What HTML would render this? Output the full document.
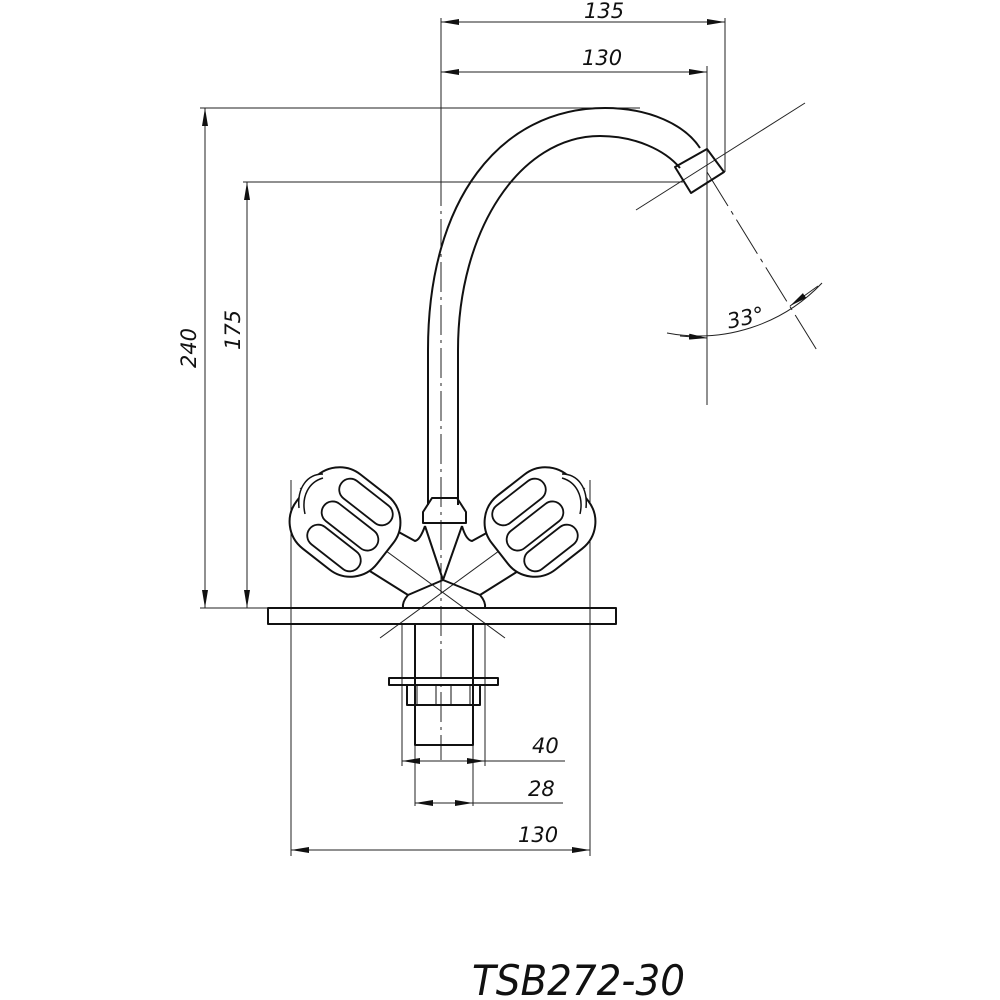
<!DOCTYPE html>
<html><head><meta charset="utf-8"><style>
html,body{margin:0;padding:0;background:#fff;}
svg{display:block}
text{font-family:"DejaVu Sans","Liberation Sans",sans-serif;font-style:italic;fill:#111}
</style></head><body>
<svg width="1000" height="1000" viewBox="0 0 1000 1000" xmlns="http://www.w3.org/2000/svg">
<defs>
<marker id="a" viewBox="0 0 18 6" refX="18" refY="3" markerWidth="18" markerHeight="6" markerUnits="userSpaceOnUse" orient="auto"><path d="M0,0 L18,3 L0,6 z" fill="#111"/></marker>
<marker id="s" viewBox="0 0 18 6" refX="0" refY="3" markerWidth="18" markerHeight="6" markerUnits="userSpaceOnUse" orient="auto"><path d="M18,0 L0,3 L18,6 z" fill="#111"/></marker>
<g id="knob">
<rect x="-51" y="-47" width="102" height="94" rx="34" transform="rotate(38)" stroke-width="2"/>
<path d="M-46,-14 C-48,-34 -38,-48 -22,-48" stroke-width="1.5"/>
<path d="M-40,-8 C-44,-26 -36,-40 -22,-44" stroke-width="1.5"/>
<rect x="-31" y="-11" width="62" height="22" rx="11" transform="translate(21,-20) rotate(38)"/>
<rect x="-33" y="-11" width="66" height="22" rx="11" transform="translate(5,4) rotate(38)"/>
<rect x="-31" y="-11" width="62" height="22" rx="11" transform="translate(-11,26) rotate(38)"/>
</g>
</defs>
<g stroke="#222" stroke-width="1" fill="none">
<line x1="441" y1="18" x2="441" y2="176"/>
<line x1="725" y1="18" x2="725" y2="172"/>
<line x1="707" y1="66" x2="707" y2="405"/>
<line x1="200" y1="108" x2="640" y2="108"/>
<line x1="243" y1="182" x2="683" y2="182"/>
<line x1="200" y1="608" x2="268" y2="608"/>
<line x1="441" y1="22" x2="725" y2="22" marker-start="url(#s)" marker-end="url(#a)"/>
<line x1="441" y1="72" x2="707" y2="72" marker-start="url(#s)" marker-end="url(#a)"/>
<line x1="205" y1="108" x2="205" y2="608" marker-start="url(#s)" marker-end="url(#a)"/>
<line x1="247" y1="182" x2="247" y2="608" marker-start="url(#s)" marker-end="url(#a)"/>
<line x1="441" y1="176" x2="441" y2="760" stroke-dasharray="30,5,3,5"/>
<line x1="707" y1="172" x2="818" y2="352" stroke-dasharray="40,6,4,6"/>
<line x1="636" y1="210" x2="805" y2="103"/>
<path d="M667,333 A170,170 0 0 0 822,283"/>
<path d="M680,336 L707,338" marker-end="url(#a)"/>
<path d="M818,286 L790,306" marker-end="url(#a)"/>
<line x1="291" y1="480" x2="291" y2="856"/>
<line x1="590" y1="480" x2="590" y2="856"/>
<line x1="402" y1="624" x2="402" y2="766"/>
<line x1="485" y1="624" x2="485" y2="766"/>
<line x1="415" y1="745" x2="415" y2="806"/>
<line x1="473" y1="745" x2="473" y2="806"/>
<line x1="402" y1="761" x2="565" y2="761"/>
<path d="M441,761 L402,761" marker-end="url(#a)"/><path d="M441,761 L485,761" marker-end="url(#a)"/>
<line x1="415" y1="803" x2="563" y2="803"/>
<path d="M441,803 L415,803" marker-end="url(#a)"/><path d="M441,803 L473,803" marker-end="url(#a)"/>
<line x1="291" y1="850" x2="590" y2="850" marker-start="url(#s)" marker-end="url(#a)"/>
<line x1="300" y1="488" x2="505" y2="638"/>
<line x1="585" y1="488" x2="380" y2="638"/>
</g>
<g stroke="#111" stroke-width="2" fill="none" stroke-linejoin="round">
<path d="M428,505 L428,350 C428,200 500,108 605,108 C650,108 685,125 700,148"/>
<path d="M458,505 L458,350 C458,230 520,136 600,136 C635,136 665,150 680,168"/>
<path d="M675,167 L707,149 L724,172 L691,193 Z"/>
<path d="M423,523 L423,512 L432,498 L457,498 L466,512 L466,523 Z"/>
<path d="M425,526 Q420,540 415,541 L395,530"/>
<path d="M462,526 Q466,540 472,541 L492,530"/>
<path d="M425,526 L443,580 L462,526"/>
<path d="M365,568 L408,595 L443,580 L480,595 L523,568"/>
<path d="M408,595 Q402,602 403,608"/>
<path d="M480,595 Q486,602 485,608"/>
<g fill="#fff" stroke-width="1.8"><use href="#knob" transform="translate(345,522)"/></g>
<g fill="#fff" stroke-width="1.8"><use href="#knob" transform="translate(540,522) scale(-1,1)"/></g>
<rect x="268" y="608" width="348" height="16"/>
<rect x="415" y="624" width="58" height="121"/>
<rect x="389" y="678" width="109" height="7"/>
<rect x="407" y="685" width="73" height="20"/>
<line x1="417" y1="685" x2="417" y2="705" stroke-width="1"/>
<line x1="436" y1="685" x2="436" y2="705" stroke-width="1"/>
<line x1="451" y1="685" x2="451" y2="705" stroke-width="1"/>
<line x1="470" y1="685" x2="470" y2="705" stroke-width="1"/>
</g>
<g font-size="21">
<text x="584" y="18">135</text>
<text x="582" y="65">130</text>
<text x="196" y="348" transform="rotate(-90 196 348)" text-anchor="middle">240</text>
<text x="240" y="330" transform="rotate(-90 240 330)" text-anchor="middle">175</text>
<text x="727" y="325" transform="rotate(-12 745 318)">33°</text>
<text x="532" y="753">40</text>
<text x="528" y="796">28</text>
<text x="518" y="842">130</text>
</g>
<text x="472" y="995" font-size="42" textLength="213" lengthAdjust="spacingAndGlyphs">TSB272-30</text>
</svg>
</body></html>
